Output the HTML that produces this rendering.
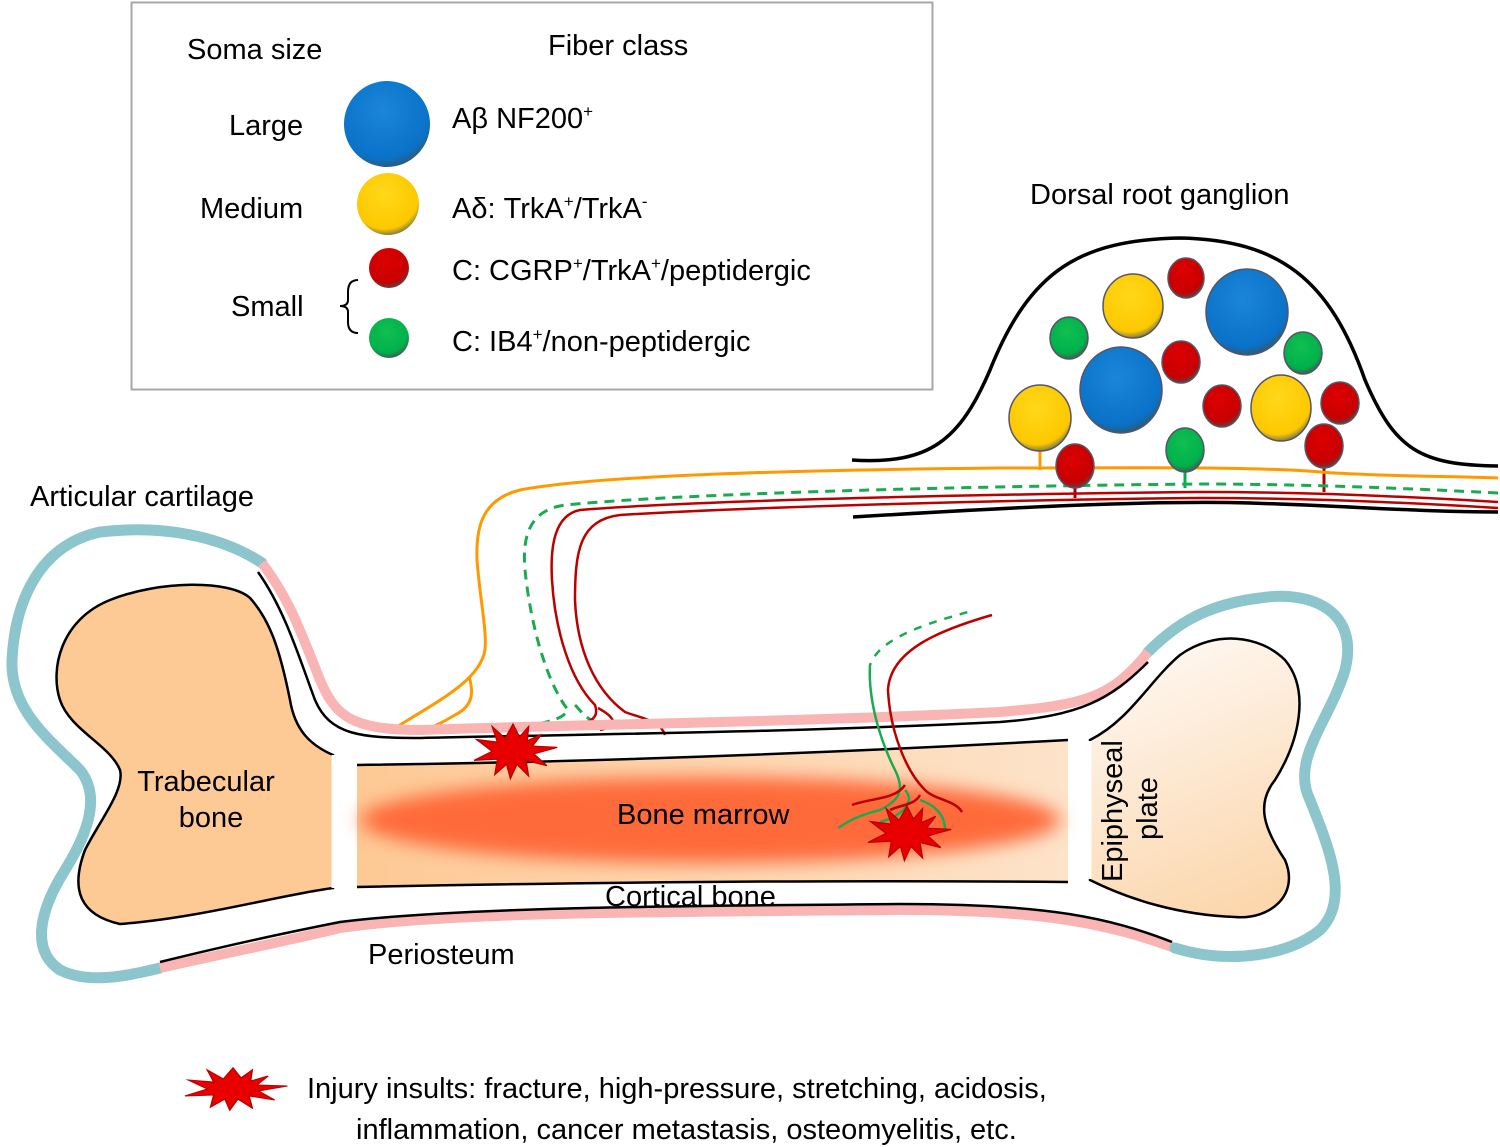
<!DOCTYPE html>
<html><head><meta charset="utf-8"><style>
body{margin:0;background:#fff}
svg{display:block}
text{font-family:"Liberation Sans",Arial,sans-serif;fill:#000}
</style></head><body>
<svg width="1500" height="1147" viewBox="0 0 1500 1147" xmlns="http://www.w3.org/2000/svg">
<defs>
<radialGradient id="gb" cx="45%" cy="35%" r="65%"><stop offset="0" stop-color="#1a86da"/><stop offset="0.85" stop-color="#0a72c8"/><stop offset="1" stop-color="#2a5c80"/></radialGradient>
<radialGradient id="gy" cx="45%" cy="35%" r="65%"><stop offset="0" stop-color="#ffd81a"/><stop offset="0.85" stop-color="#fdc800"/><stop offset="1" stop-color="#8a8040"/></radialGradient>
<radialGradient id="gr" cx="45%" cy="35%" r="65%"><stop offset="0" stop-color="#d00"/><stop offset="0.8" stop-color="#c80000"/><stop offset="1" stop-color="#604040"/></radialGradient>
<radialGradient id="gg" cx="45%" cy="35%" r="65%"><stop offset="0" stop-color="#10c050"/><stop offset="0.8" stop-color="#00b04c"/><stop offset="1" stop-color="#406050"/></radialGradient>
<linearGradient id="shaft" x1="0" x2="1"><stop offset="0" stop-color="#fdc995"/><stop offset="1" stop-color="#fde3c9"/></linearGradient>
<linearGradient id="repi" x1="0.3" y1="0" x2="0.6" y2="1"><stop offset="0" stop-color="#fef8f3"/><stop offset="1" stop-color="#fcd7ad"/></linearGradient>
<filter id="blur" x="-20%" y="-50%" width="140%" height="200%"><feGaussianBlur stdDeviation="9"/></filter>
<g id="star"><polygon points="0,-20 5,-10 12,-18 11,-7 22,-12 15,-3 34,-2 16,3 26,12 10,8 12,20 3,11 -2,22 -5,11 -14,19 -12,7 -30,8 -16,1 -28,-8 -12,-6 -16,-18 -6,-9" fill="#e80000" stroke="#b00" stroke-width="1"/></g>
</defs>

<!-- Legend box -->
<rect x="131.5" y="2.5" width="801" height="387" fill="#fff" stroke="#a8a8a8" stroke-width="2"/>
<text x="187" y="59" font-size="29">Soma size</text>
<text x="548" y="55" font-size="29">Fiber class</text>
<text x="229" y="135" font-size="29">Large</text>
<text x="200" y="218" font-size="29">Medium</text>
<text x="231" y="316" font-size="29">Small</text>
<path d="M358,280 Q348,280 348,292 L348,300 Q348,306 340,306 Q348,306 348,312 L348,322 Q348,333 358,333" fill="none" stroke="#000" stroke-width="2"/>
<circle cx="387" cy="124" r="43" fill="url(#gb)"/>
<circle cx="388" cy="204" r="31" fill="url(#gy)"/>
<circle cx="389" cy="268" r="20" fill="url(#gr)"/>
<circle cx="389" cy="338" r="20" fill="url(#gg)"/>
<text x="452" y="128" font-size="29">Aβ NF200<tspan font-size="17" dy="-11">+</tspan></text>
<text x="452" y="218" font-size="29">Aδ: TrkA<tspan font-size="17" dy="-11">+</tspan><tspan dy="11">/TrkA</tspan><tspan font-size="17" dy="-11">-</tspan></text>
<text x="452" y="280" font-size="29">C: CGRP<tspan font-size="17" dy="-11">+</tspan><tspan dy="11">/TrkA</tspan><tspan font-size="17" dy="-11">+</tspan><tspan dy="11">/peptidergic</tspan></text>
<text x="452" y="351" font-size="29">C: IB4<tspan font-size="17" dy="-11">+</tspan><tspan dy="11">/non-peptidergic</tspan></text>

<!-- DRG -->
<text x="1030" y="204" font-size="29">Dorsal root ganglion</text>
<path d="M852,460 C930,465 960,440 990,370 C1030,270 1080,240 1180,238 C1280,240 1330,280 1365,380 C1395,450 1420,465 1498,466" fill="none" stroke="#000" stroke-width="3.5"/>
<path d="M853,517 C1000,508 1150,500 1250,503 C1350,506 1420,512 1498,512" fill="none" stroke="#000" stroke-width="3.5"/>
<line x1="1040" y1="445" x2="1040" y2="470" stroke="#f90" stroke-width="3"/>
<line x1="1185" y1="462" x2="1185" y2="488" stroke="#00b04c" stroke-width="3"/>
<line x1="1324" y1="458" x2="1324" y2="492" stroke="#a00" stroke-width="3"/>
<line x1="1075" y1="480" x2="1075" y2="498" stroke="#a00" stroke-width="3"/>

<!-- Nerves -->
<path d="M1498,478 C1440,476 1370,476 1320,472 C1250,466 1100,468 1000,468 C800,470 600,475 520,490 C480,500 476,530 477,560 C480,600 487,630 485,650 C480,680 440,700 395,728 M469,676 C473,690 475,705 455,715 C440,724 430,728 420,732" fill="none" stroke="#f90" stroke-width="3"/>
<path d="M1498,493 C1400,488 1300,484 1200,484 C1000,486 700,492 565,505 C530,510 522,535 525,570 C530,620 545,680 568,710 C560,725 520,725 497,730 M575,705 C585,715 588,725 620,727" fill="none" stroke="#1aaa50" stroke-width="3" stroke-dasharray="10,7"/>
<path d="M1498,502 C1400,496 1300,492 1200,492 C1000,494 700,500 580,510 C555,515 550,545 552,580 C555,630 570,680 595,705 C600,720 590,725 545,730 M1498,508 C1400,502 1300,498 1200,498 C1000,500 750,507 620,515 C580,520 575,550 575,600 C577,650 595,690 625,712 C640,718 660,720 665,735 M598,708 C620,720 615,727 600,730" fill="none" stroke="#b00" stroke-width="2.5"/>

<!-- DRG somata -->
<g stroke="#556" stroke-width="1.5">
<ellipse cx="1186" cy="278" rx="18" ry="20" fill="url(#gr)"/>
<ellipse cx="1133" cy="306" rx="30" ry="32" fill="url(#gy)"/>
<ellipse cx="1247" cy="312" rx="41" ry="43" fill="url(#gb)"/>
<ellipse cx="1069" cy="338" rx="19" ry="21" fill="url(#gg)"/>
<ellipse cx="1181" cy="362" rx="19" ry="21" fill="url(#gr)"/>
<ellipse cx="1303" cy="353" rx="19" ry="21" fill="url(#gg)"/>
<ellipse cx="1121" cy="390" rx="41" ry="43" fill="url(#gb)"/>
<ellipse cx="1040" cy="418" rx="31" ry="33" fill="url(#gy)"/>
<ellipse cx="1222" cy="406" rx="19" ry="21" fill="url(#gr)"/>
<ellipse cx="1281" cy="408" rx="30" ry="33" fill="url(#gy)"/>
<ellipse cx="1340" cy="403" rx="19" ry="21" fill="url(#gr)"/>
<ellipse cx="1075" cy="466" rx="19" ry="22" fill="url(#gr)"/>
<ellipse cx="1185" cy="450" rx="19" ry="22" fill="url(#gg)"/>
<ellipse cx="1324" cy="446" rx="19" ry="22" fill="url(#gr)"/>
</g>

<!-- Bone: cartilage + periosteum -->
<path d="M262,563 C220,535 160,525 100,532 C40,545 15,600 12,660 C10,710 50,740 80,770 C100,795 90,830 65,870 C40,910 30,950 60,970 C90,985 130,975 160,968" fill="none" stroke="#8cc6cc" stroke-width="11" stroke-linecap="round"/>
<path d="M160,968 C250,948 300,938 340,928 C450,912 650,912 900,910 C1050,910 1110,925 1175,948" fill="none" stroke="#f9b4b4" stroke-width="10"/>
<path d="M1175,948 C1230,965 1290,955 1320,930 C1350,900 1330,850 1310,800 C1290,760 1330,720 1345,670 C1360,610 1310,590 1260,598 C1200,605 1170,630 1148,652" fill="none" stroke="#8cc6cc" stroke-width="11" stroke-linecap="round"/>
<path d="M1148,652 C1110,700 1080,705 1000,712 C800,722 600,724 420,730 C350,730 335,715 320,680 C300,630 290,600 262,563" fill="none" stroke="#f9b4b4" stroke-width="10"/>
<path d="M258,572 C285,610 300,660 315,700 C330,735 360,738 420,738 C600,734 800,732 1000,722 C1080,716 1110,700 1148,662" fill="none" stroke="#000" stroke-width="2.5"/>
<path d="M160,962 C250,940 300,930 340,922 C450,908 650,906 900,904 C1050,904 1110,918 1172,942" fill="none" stroke="#000" stroke-width="2.5"/>

<!-- Trabecular -->
<path d="M333,755 C310,745 295,730 290,700 C280,650 270,620 250,598 C230,580 160,580 110,600 C60,620 50,670 60,700 C70,730 110,745 120,770 C125,790 100,820 85,850 C70,890 80,915 120,924 C200,918 280,895 333,888 Z" fill="#fdc995" stroke="#000" stroke-width="2.5"/>
<line x1="333" y1="755" x2="333" y2="888" stroke="#fff" stroke-width="3"/>
<!-- Shaft -->
<path d="M357,765 C600,762 850,752 1068,740 L1068,882 C850,880 600,882 357,887 Z" fill="url(#shaft)"/>
<path d="M357,765 C600,762 850,752 1068,740 M357,887 C600,882 850,880 1068,882" fill="none" stroke="#000" stroke-width="2.5"/>
<ellipse cx="710" cy="820" rx="350" ry="43" fill="#ff6a3a" filter="url(#blur)"/>
<!-- Right epiphysis -->
<path d="M1090,740 C1130,720 1150,680 1180,655 C1215,630 1260,635 1285,660 C1310,690 1300,740 1275,780 C1255,805 1265,830 1285,860 C1300,895 1270,920 1235,917 C1180,915 1130,900 1090,880 Z" fill="url(#repi)" stroke="#000" stroke-width="2.5"/>
<line x1="1090" y1="741" x2="1090" y2="879" stroke="#fff" stroke-width="3"/>

<!-- Nerve 2 in marrow -->
<path d="M975,610 C940,620 880,635 870,665 C868,700 880,740 895,770 C905,790 900,800 880,810 C860,815 850,820 838,828 M905,790 C915,800 905,815 880,822 M920,800 C935,805 945,815 945,830" fill="none" stroke="#1aaa50" stroke-width="2.5"/>
<path d="M975,610 C940,620 880,635 870,665" fill="none" stroke="#fff" stroke-width="4" stroke-dasharray="8,8"/>
<path d="M992,615 C940,630 890,650 888,690 C890,730 905,770 925,790 M905,785 C895,800 870,798 852,805 M920,795 C915,805 900,805 890,810 M925,790 C935,800 955,800 962,812" fill="none" stroke="#b00" stroke-width="2.5"/>

<use href="#star" transform="translate(513,750) scale(1.3)"/>
<use href="#star" transform="translate(907,832) scale(1.3)"/>

<!-- Labels -->
<text x="30" y="506" font-size="29">Articular cartilage</text>
<text x="206" y="791" font-size="29" text-anchor="middle">Trabecular</text>
<text x="211" y="827" font-size="29" text-anchor="middle">bone</text>
<text x="617" y="824" font-size="29">Bone marrow</text>
<text x="605" y="906" font-size="29">Cortical bone</text>
<text x="368" y="964" font-size="29">Periosteum</text>
<text transform="translate(1122,882) rotate(-90)" font-size="29">Epiphyseal</text>
<text transform="translate(1157,840) rotate(-90)" font-size="29">plate</text>

<use href="#star" transform="translate(233,1088) scale(1.6,1.0)"/>
<text x="307" y="1098" font-size="29">Injury insults: fracture, high-pressure, stretching, acidosis,</text>
<text x="356" y="1139" font-size="29">inflammation, cancer metastasis, osteomyelitis, etc.</text>
</svg>
</body></html>
